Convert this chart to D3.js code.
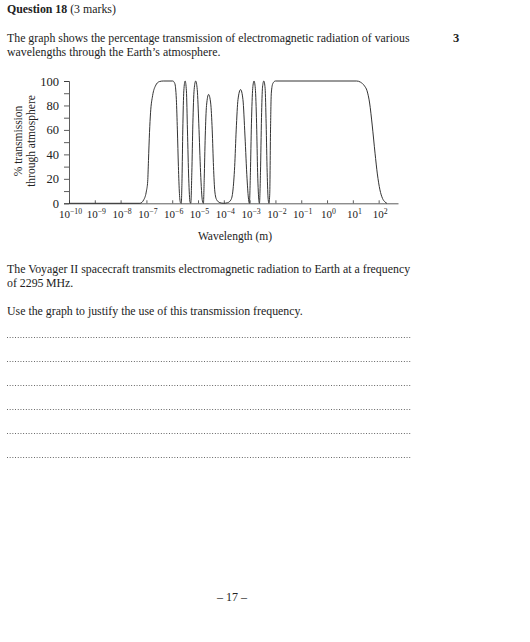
<!DOCTYPE html>
<html>
<head>
<meta charset="utf-8">
<script src="https://cdn.jsdelivr.net/npm/d3@7"></script>
<style>
  html, body { margin: 0; padding: 0; background: #fff; }
  svg { display: block; }
  text { font-family: "Liberation Serif", "Times New Roman", serif; fill: #222; }
</style>
</head>
<body>
<script>
// ---- Data ----
// log10 of wavelength (m)
const logWavelength = [
  -10, -7.25, -7.10, -7.00, -6.95, -6.92, -6.88, -6.84, -6.76, -6.65, -6.50, -6.35,
  -5.98, -5.90, -5.84, -5.80, -5.76, -5.72, -5.68, -5.65,
  -5.62, -5.59, -5.55, -5.50, -5.45, -5.41, -5.36, -5.31, -5.28,
  -5.24, -5.20, -5.15, -5.09, -5.03, -4.97, -4.90, -4.83, -4.79,
  -4.76, -4.72, -4.67, -4.59, -4.51, -4.45, -4.40, -4.35, -4.28, -4.15, -4.00,
  -3.85, -3.72, -3.65, -3.58, -3.52, -3.45, -3.35, -3.26, -3.18, -3.10, -3.04, -3.01,
  -2.97, -2.93, -2.88, -2.83, -2.78, -2.73, -2.69, -2.64, -2.62,
  -2.58, -2.54, -2.50, -2.45, -2.40, -2.36, -2.32, -2.28, -2.25,
  -2.22, -2.19, -2.16, -2.10, -2.00,
  1.15, 1.30, 1.45, 1.55, 1.65, 1.75, 1.86, 1.95, 2.05, 2.15, 2.25, 2.32
];
// % transmission through atmosphere
const transmission = [
  0, 0, 3, 10, 18, 35, 58, 74, 88, 96, 99.5, 100,
  100, 98, 85, 60, 30, 8, 0.5, 0,
  20, 60, 92, 100, 92, 60, 20, 1, 0,
  25, 65, 93, 100, 93, 65, 25, 2, 0,
  20, 55, 80, 89, 82, 60, 30, 10, 3, 0.5, 0,
  0.5, 3, 10, 30, 60, 85, 93, 85, 55, 20, 3, 0,
  25, 65, 94, 100, 94, 65, 25, 2, 0,
  25, 70, 95, 100, 94, 65, 25, 3, 0,
  8, 60, 90, 98, 100,
  100, 99, 96, 92, 82, 64, 41, 24, 11, 4, 1, 0
];
const xTickExponents = [-10, -9, -8, -7, -6, -5, -4, -3, -2, -1, 0, 1, 2];
const yTicks = [0, 10, 20, 30, 40, 50, 60, 70, 80, 90, 100];
const yTickLabels = [0, 20, 40, 60, 80, 100];
const answerLines = [0, 1, 2, 3, 4, 5];

const W = 530, H = 642;
const FS = "11.85px";
const svg = d3.select("body").append("svg").attr("width", W).attr("height", H);

// ---- Page text ----
const title = svg.append("text").attr("x", 7).attr("y", 13).style("font-size", FS);
title.append("tspan").style("font-weight", "bold").text("Question 18");
title.append("tspan").text(" (3 marks)");

svg.append("text").attr("x", 7).attr("y", 42).style("font-size", FS)
  .text("The graph shows the percentage transmission of electromagnetic radiation of various");
svg.append("text").attr("x", 7).attr("y", 55.5).style("font-size", FS)
  .text("wavelengths through the Earth\u2019s atmosphere.");
svg.append("text").attr("x", 453).attr("y", 42).style("font-size", "12.5px")
  .style("font-weight", "bold").text("3");

// ---- Chart ----
const x = d3.scaleLog().domain([1e-10, Math.pow(10, 2.75)]).range([69, 398]);
const y = d3.scaleLinear().domain([0, 100]).range([203.3, 81]);

const g = svg.append("g");

// Y axis
const yAxis = d3.axisLeft(y).tickValues(yTicks).tickSize(5).tickPadding(5)
  .tickFormat(d => yTickLabels.includes(d) ? d : "");
const yg = g.append("g").attr("transform", `translate(${x(1e-10)},0)`).call(yAxis);
yg.select(".domain").attr("stroke", "#333").attr("stroke-width", 0.8);
yg.selectAll(".tick line").attr("stroke", "#333").attr("stroke-width", 0.8);
yg.selectAll(".tick text").style("font-family", "Liberation Serif, serif")
  .style("font-size", "12.5px").attr("fill", "#222");

// X axis (ticks point inward)
const xAxis = d3.axisBottom(x).tickValues(xTickExponents.map(e => Math.pow(10, e)))
  .tickSize(-3).tickSizeOuter(0).tickFormat("");
const xg = g.append("g").attr("transform", `translate(0,${y(0)})`).call(xAxis);
xg.select(".domain").attr("stroke", "#333").attr("stroke-width", 0.8);
xg.selectAll(".tick line").attr("stroke", "#333").attr("stroke-width", 0.8);

// X tick labels with superscripts
xTickExponents.forEach(e => {
  const t = g.append("text").attr("x", x(Math.pow(10, e)) + 1.5).attr("y", y(0) + 15)
    .attr("text-anchor", "middle").style("font-size", "11px");
  t.append("tspan").text("10");
  t.append("tspan").attr("dy", -4.5).style("font-size", "7.8px")
    .text(e < 0 ? "\u2212" + Math.abs(e) : String(e));
});

// Axis titles
g.append("text").attr("x", 235).attr("y", 240).attr("text-anchor", "middle")
  .style("font-size", "11.5px").text("Wavelength (m)");
const yt = g.append("text").attr("transform", "translate(0,141) rotate(-90)")
  .attr("text-anchor", "middle").style("font-size", "11.5px");
yt.append("tspan").attr("x", 0).attr("y", 22).text("% transmission");
yt.append("tspan").attr("x", 0).attr("y", 34.5).text("through atmosphere");

// Curve
const pts = logWavelength.map((e, i) => [Math.pow(10, e), transmission[i]]);
const line = d3.line().x(d => x(d[0])).y(d => y(d[1])).curve(d3.curveMonotoneX);
g.append("path").datum(pts).attr("d", line)
  .attr("fill", "none").attr("stroke", "#333").attr("stroke-width", 1);

// ---- Question text ----
svg.append("text").attr("x", 7).attr("y", 273).style("font-size", FS)
  .text("The Voyager II spacecraft transmits electromagnetic radiation to Earth at a frequency");
svg.append("text").attr("x", 7).attr("y", 287).style("font-size", FS)
  .text("of 2295\u2009MHz.");
svg.append("text").attr("x", 7).attr("y", 315).style("font-size", FS)
  .text("Use the graph to justify the use of this transmission frequency.");

// Dotted answer lines
answerLines.forEach(i => {
  svg.append("line").attr("x1", 7).attr("x2", 411)
    .attr("y1", 337.5 + i * 24).attr("y2", 337.5 + i * 24)
    .attr("stroke", "#444").attr("stroke-width", 0.9).attr("stroke-dasharray", "0.9,1.8");
});

// Page number
svg.append("text").attr("x", 232).attr("y", 601).attr("text-anchor", "middle")
  .style("font-size", "12px").text("\u2013 17 \u2013");
</script>
</body>
</html>
